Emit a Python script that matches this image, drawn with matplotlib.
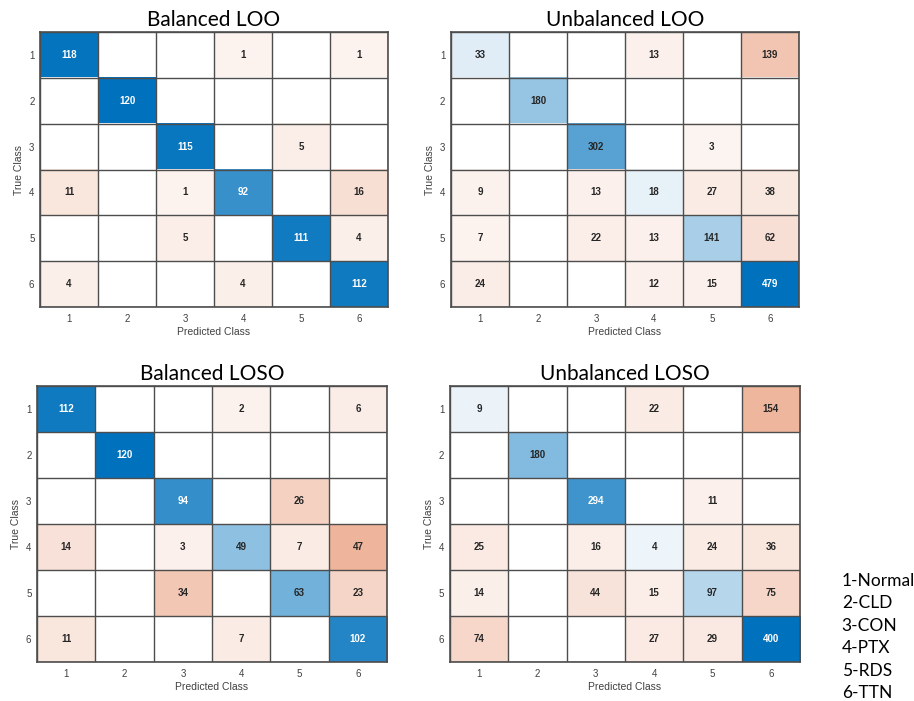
import matplotlib
matplotlib.use('Agg')
import matplotlib.pyplot as plt
from matplotlib.colors import LinearSegmentedColormap
import numpy as np

# Matrices de confusion (lignes = vraie classe, colonnes = classe predite)
balancedLOO = [[118, 0, 0, 1, 0, 1],
               [0, 120, 0, 0, 0, 0],
               [0, 0, 115, 0, 5, 0],
               [11, 0, 1, 92, 0, 16],
               [0, 0, 5, 0, 111, 4],
               [4, 0, 0, 4, 0, 112]]

unbalancedLOO = [[33, 0, 0, 13, 0, 139],
                 [0, 180, 0, 0, 0, 0],
                 [0, 0, 302, 0, 3, 0],
                 [9, 0, 13, 18, 27, 38],
                 [7, 0, 22, 13, 141, 62],
                 [24, 0, 0, 12, 15, 479]]

balancedLOSO = [[112, 0, 0, 2, 0, 6],
                [0, 120, 0, 0, 0, 0],
                [0, 0, 94, 0, 26, 0],
                [14, 0, 3, 49, 7, 47],
                [0, 0, 34, 0, 63, 23],
                [11, 0, 0, 7, 0, 102]]

unbalancedLOSO = [[9, 0, 0, 22, 0, 154],
                  [0, 180, 0, 0, 0, 0],
                  [0, 0, 294, 0, 11, 0],
                  [25, 0, 16, 4, 24, 36],
                  [14, 0, 44, 15, 97, 75],
                  [74, 0, 0, 27, 29, 400]]

titles = ['Balanced LOO', 'Unbalanced LOO', 'Balanced LOSO', 'Unbalanced LOSO']
classLabels = ['1', '2', '3', '4', '5', '6']
legendLabels = ['1-Normal', '2-CLD', '3-CON', '4-PTX', '5-RDS', '6-TTN']

cmapDiag = LinearSegmentedColormap.from_list('diag', ['#ffffff', '#0072bd'])
cmapOff = LinearSegmentedColormap.from_list('off', ['#ffffff', '#d95319'])
lineColor = '#4d4d4d'
tint = 0.064  # minimalne zabarwienie niezerowych komórek


def drawConfusion(ax, mat, title):
    mat = np.array(mat)
    n = mat.shape[0]
    vmax = mat.max()
    eye = np.eye(n, dtype=bool)
    zero = mat == 0
    ax.imshow(np.ma.masked_where(~eye | zero, mat), cmap=cmapDiag,
              vmin=-tint * vmax, vmax=vmax, aspect='auto', interpolation='nearest')
    ax.imshow(np.ma.masked_where(eye | zero, mat), cmap=cmapOff,
              vmin=-tint * vmax, vmax=vmax, aspect='auto', interpolation='nearest')
    ax.set_facecolor('white')
    for i in range(n):
        for j in range(n):
            if mat[i, j] == 0:
                continue
            frac = mat[i, j] / vmax
            col = 'white' if frac > 0.7 else '#262626'
            ax.text(j, i, str(mat[i, j]), ha='center', va='center', fontsize=7,
                    color=col, family='Liberation Sans', fontweight='bold')
    ax.set_xticks(range(n))
    ax.set_yticks(range(n))
    ax.set_xticklabels(classLabels, family='Liberation Sans', fontsize=7, color='#404040')
    ax.set_yticklabels(classLabels, family='Liberation Sans', fontsize=7, color='#404040')
    ax.set_xticks(np.arange(-0.5, n, 1), minor=True)
    ax.set_yticks(np.arange(-0.5, n, 1), minor=True)
    ax.grid(which='minor', color=lineColor, linewidth=1.0)
    ax.tick_params(which='both', length=0, pad=5)
    ax.tick_params(axis='y', pad=4)
    for s in ax.spines.values():
        s.set_color(lineColor)
        s.set_linewidth(1.2)
    ax.set_xlabel('Predicted Class', family='Liberation Sans', fontsize=7.5,
                  color='#404040', labelpad=2)
    ax.set_ylabel('True Class', family='Liberation Sans', fontsize=7.5,
                  color='#404040', labelpad=3.5)
    ax.set_title(title, family='Lato', fontsize=15, pad=4)


fig = plt.figure(figsize=(9.14, 7.01), dpi=100)
positions = [[0.0438, 0.562, 0.3807, 0.3923],
             [0.4934, 0.562, 0.3807, 0.3923],
             [0.0405, 0.0556, 0.383, 0.3937],
             [0.4923, 0.0556, 0.383, 0.3937]]
matrices = [balancedLOO, unbalancedLOO, balancedLOSO, unbalancedLOSO]
for pos, mat, t in zip(positions, matrices, titles):
    ax = fig.add_axes(pos)
    drawConfusion(ax, mat, t)

# Legenda z nazwami klas
for k, lab in enumerate(legendLabels):
    fig.text(0.921, 1 - (581 + k * 22.4) / 701, lab, family='Lato', fontsize=12.5,
             va='center', ha='left')

fig.savefig('out.png', dpi=100)
plt.close()
